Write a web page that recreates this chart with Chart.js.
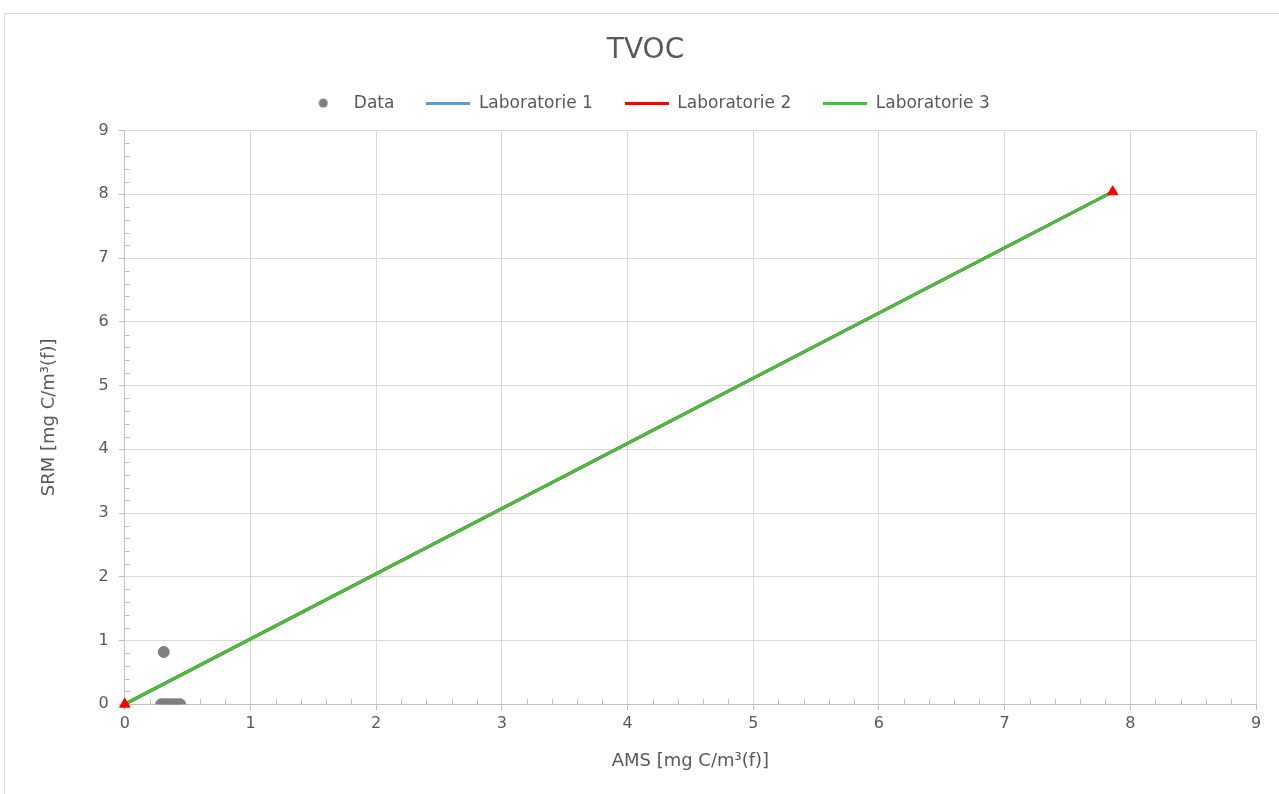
<!DOCTYPE html>
<html>
<head>
<meta charset="utf-8">
<script src="https://cdn.jsdelivr.net/npm/chart.js@4"></script>
<style>
  html, body { margin: 0; padding: 0; background: #fff; overflow: hidden; }
  #frame { position: absolute; left: 4px; top: 13px; width: 1292px; height: 800px;
           border: 1px solid #d9d9d9; box-sizing: border-box; }
  #chart { display: block; }
</style>
</head>
<body>
<div id="frame"><canvas id="chart" width="1290" height="781"></canvas></div>
<script>
// measured points (AMS vs SRM)
const dataX = [0.31, 0.29, 0.32, 0.35, 0.38, 0.41, 0.44];
const dataY = [0.82, 0, 0, 0, 0, 0, 0];

// regression lines per lab: start and end points
const lineX = [0, 7.86];
const lab1Y = [0, 8.04];
const lab2Y = [0, 8.04];
const lab3Y = [0, 8.04];

const axisTicks = [0, 1, 2, 3, 4, 5, 6, 7, 8, 9];

const pts = (xs, ys) => xs.map((x, i) => ({ x: x, y: ys[i] }));

// little legend icons
function icon(kind, color) {
    const c = document.createElement('canvas');
    const g = c.getContext('2d');
    if (kind === 'dot') {
        c.width = 10; c.height = 10;
        g.fillStyle = color;
        g.beginPath(); g.arc(5, 5, 4.5, 0, Math.PI * 2); g.fill();
    } else {
        c.width = 44; c.height = 3;
        g.fillStyle = color;
        g.fillRect(0, 0, 44, 3);
    }
    return c;
}

const textColor = '#595959';
const gridColor = '#d9d9d9';
const fam = 'DejaVu Sans';

const minorTicks = {
    id: 'minorTicks',
    beforeDatasetsDraw(chart) {
        const ctx = chart.ctx;
        const xs = chart.scales.x, ys = chart.scales.y;
        ctx.save();
        ctx.strokeStyle = '#bfbfbf';
        ctx.lineWidth = 1;
        for (let i = 0; i < 45; i++) {
            if (i % 5 === 0) continue;
            const v = i / 5;
            const px = Math.round(xs.getPixelForValue(v)) + 0.5;
            ctx.beginPath(); ctx.moveTo(px, ys.bottom); ctx.lineTo(px, ys.bottom - 5); ctx.stroke();
            const py = Math.round(ys.getPixelForValue(v)) + 0.5;
            ctx.beginPath(); ctx.moveTo(xs.left, py); ctx.lineTo(xs.left + 5, py); ctx.stroke();
        }
        ctx.restore();
    }
};

// a bit more room under the legend
const legendGap = {
    id: 'legendGap',
    beforeInit(chart) {
        const fit = chart.legend.fit;
        chart.legend.fit = function () {
            fit.call(this);
            this.height += 9;
        };
    }
};

new Chart('chart', {
    type: 'scatter',
    data: {
        datasets: [
            {
                label: 'Data',
                data: pts(dataX, dataY),
                backgroundColor: '#7f7f7f',
                borderColor: '#7f7f7f',
                pointRadius: 5.5,
                order: 1
            },
            {
                label: 'Laboratorie 1',
                data: pts(lineX, lab1Y),
                showLine: true,
                borderColor: '#5b9bd5',
                borderWidth: 3,
                pointRadius: 0,
                order: 4
            },
            {
                label: 'Laboratorie 2',
                data: pts(lineX, lab2Y),
                showLine: true,
                borderColor: '#ff0000',
                borderWidth: 3,
                pointRadius: 0,
                order: 3
            },
            {
                label: 'Laboratorie 3',
                data: pts(lineX, lab3Y),
                showLine: true,
                borderColor: '#3cc43c',
                borderWidth: 3,
                pointRadius: 0,
                order: 2
            },
            {
                label: 'ends',
                data: pts(lineX, lab2Y),
                pointStyle: 'triangle',
                pointRadius: 6,
                backgroundColor: '#ff0000',
                borderColor: '#ff0000',
                clip: false,
                order: 0
            }
        ]
    },
    options: {
        responsive: false,
        animation: false,
        layout: { padding: { left: 30, right: 39, top: 8, bottom: 19 } },
        plugins: {
            title: {
                display: true,
                text: 'TVOC',
                color: textColor,
                font: { family: fam, size: 28, weight: 'normal' },
                padding: { top: 12, bottom: -5 }
            },
            legend: {
                labels: {
                    color: textColor,
                    font: { family: fam, size: 17 },
                    usePointStyle: true,
                    pointStyleWidth: 44,
                    padding: 32,
                    filter: item => item.text !== 'ends',
                    generateLabels(chart) {
                        const cols = ['#7f7f7f', '#5b9bd5', '#ff0000', '#3cc43c'];
                        return chart.data.datasets.map((ds, i) => ({
                            text: ds.label,
                            fontColor: textColor,
                            pointStyle: i === 0 ? icon('dot', cols[0]) : icon('line', cols[i] || '#000'),
                            datasetIndex: i,
                            lineWidth: 0
                        }));
                    }
                }
            },
            tooltip: { enabled: false }
        },
        scales: {
            x: {
                type: 'linear',
                min: 0, max: 9,
                afterBuildTicks: s => { s.ticks = axisTicks.map(v => ({ value: v })); },
                ticks: { color: textColor, font: { family: fam, size: 16 }, padding: 4 },
                grid: { color: gridColor, tickColor: '#bfbfbf', tickLength: 6 },
                border: { color: '#bfbfbf', width: 1 },
                title: {
                    display: true, text: 'AMS [mg C/m³(f)]', color: textColor,
                    font: { family: fam, size: 18 }, padding: { top: 13 }
                }
            },
            y: {
                type: 'linear',
                min: 0, max: 9,
                afterBuildTicks: s => { s.ticks = axisTicks.map(v => ({ value: v })); },
                ticks: { color: textColor, font: { family: fam, size: 16 }, padding: 10 },
                grid: { color: gridColor, tickColor: '#bfbfbf', tickLength: 6 },
                border: { color: '#bfbfbf', width: 1 },
                title: {
                    display: true, text: 'SRM [mg C/m³(f)]', color: textColor,
                    font: { family: fam, size: 18 }, padding: { bottom: 28 }
                }
            }
        }
    },
    plugins: [minorTicks, legendGap]
});
</script>
</body>
</html>
